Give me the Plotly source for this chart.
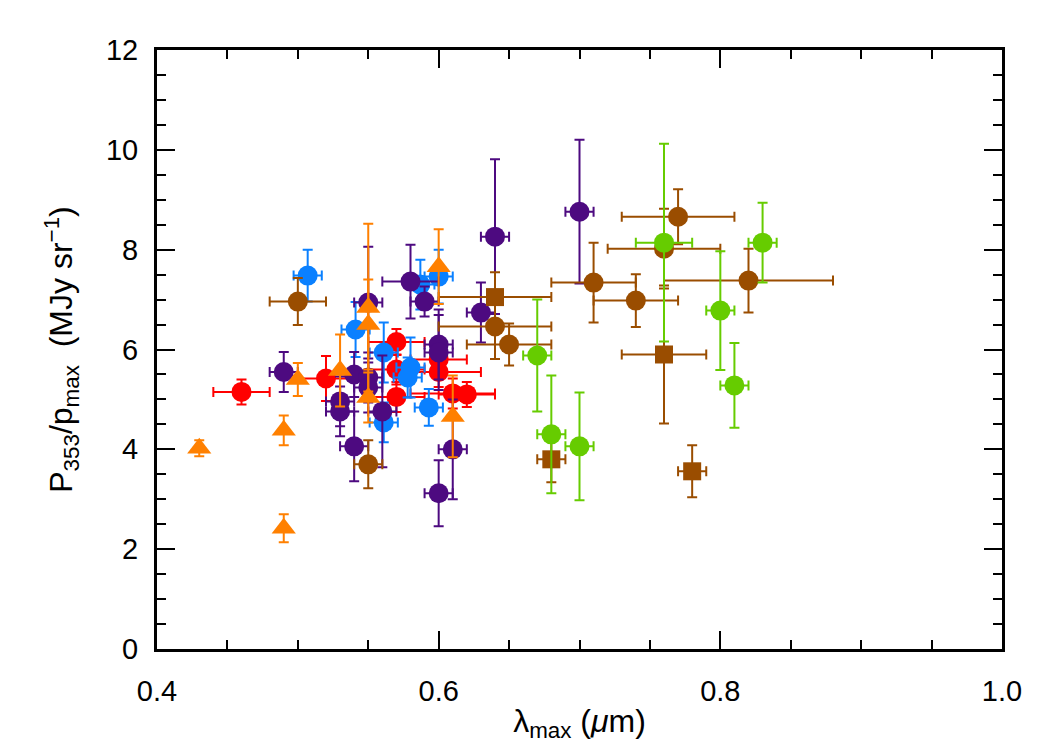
import plotly.graph_objects as go

# ---- data ----
red_x = [0.46, 0.52, 0.57, 0.57, 0.57, 0.60, 0.60, 0.61, 0.62]
red_y = [5.15, 5.42, 6.15, 5.60, 5.05, 5.55, 5.80, 5.12, 5.10]
red_xerr = [0.02, 0.02, 0.02, 0.02, 0.02, 0.03, 0.02, 0.03, 0.02]
red_yerr = [0.25, 0.45, 0.26, 0.30, 0.30, 0.30, 0.30, 0.30, 0.25]

blue_x = [0.507, 0.541, 0.561, 0.580, 0.578, 0.593, 0.600, 0.587, 0.561]
blue_y = [7.48, 6.40, 5.94, 5.64, 5.44, 4.84, 7.46, 7.30, 4.54]
blue_xerr = [0.01, 0.01, 0.01, 0.01, 0.01, 0.01, 0.01, 0.01, 0.01]
blue_yerr = [0.52, 0.55, 0.60, 0.60, 0.40, 0.37, 0.54, 0.50, 0.40]

purple_x = [0.49, 0.53, 0.53, 0.54, 0.54, 0.55, 0.55, 0.55, 0.56, 0.58,
            0.59, 0.60, 0.60, 0.60, 0.61, 0.63, 0.64, 0.70]
purple_y = [5.55, 4.96, 4.76, 5.50, 4.06, 6.94, 5.44, 5.24, 4.76, 7.36,
            6.96, 6.10, 5.94, 3.12, 4.00, 6.74, 8.26, 8.76]
purple_xerr = [0.01, 0.01, 0.01, 0.01, 0.01, 0.01, 0.01, 0.01, 0.01, 0.02,
               0.01, 0.01, 0.01, 0.01, 0.01, 0.01, 0.01, 0.01]
purple_yerr = [0.40, 0.50, 0.50, 0.45, 0.70, 1.12, 0.50, 0.50, 1.12, 0.74,
               0.30, 0.70, 0.75, 0.66, 1.00, 0.60, 1.55, 1.44]

brown_x = [0.50, 0.55, 0.64, 0.65, 0.71, 0.74, 0.76, 0.77, 0.82]
brown_y = [6.96, 3.70, 6.46, 6.10, 7.34, 6.98, 8.02, 8.66, 7.38]
brown_xerr = [0.02, 0.01, 0.04, 0.03, 0.03, 0.03, 0.04, 0.04, 0.06]
brown_yerr = [0.47, 0.48, 0.65, 0.42, 0.80, 0.53, 0.80, 0.55, 0.64]

brownsq_x = [0.64, 0.68, 0.76, 0.78]
brownsq_y = [7.05, 3.80, 5.90, 3.56]
brownsq_xerr = [0.04, 0.01, 0.03, 0.01]
brownsq_yerr = [0.50, 0.46, 1.38, 0.52]

green_x = [0.67, 0.68, 0.70, 0.76, 0.80, 0.81, 0.83]
green_y = [5.88, 4.30, 4.06, 8.14, 6.78, 5.28, 8.14]
green_xerr = [0.01, 0.01, 0.01, 0.02, 0.01, 0.01, 0.01]
green_yerr = [1.12, 1.18, 1.08, 1.98, 1.19, 0.85, 0.80]

orange_x = [0.43, 0.49, 0.49, 0.50, 0.53, 0.55, 0.55, 0.55, 0.60, 0.61]
orange_y = [4.02, 4.38, 2.42, 5.40, 5.58, 6.84, 6.50, 5.04, 7.66, 4.66]
orange_yerr = [0.16, 0.30, 0.28, 0.33, 0.72, 1.68, 0.90, 0.50, 0.75, 0.82]

x_ticks = [0.4, 0.6, 0.8, 1.0]
x_ticklabels = ["0.4", "0.6", "0.8", "1.0"]
y_ticks = [0, 2, 4, 6, 8, 10, 12]

RED = "#ff0000"
BLUE = "#0a80ff"
PURPLE = "#4d0a80"
BROWN = "#9a4d00"
GREEN = "#66cc00"
ORANGE = "#ff8000"

fig = go.Figure()


def add_group(x, y, xerr, yerr, color, symbol, size):
    err_x = dict(type="data", array=xerr, visible=True, color=color,
                 thickness=2, width=5) if xerr is not None else dict(visible=False)
    fig.add_trace(go.Scatter(
        x=x, y=y, mode="markers",
        marker=dict(color=color, symbol=symbol, size=size, line=dict(width=0)),
        error_x=err_x,
        error_y=dict(type="data", array=yerr, visible=True, color=color,
                     thickness=2, width=5),
        showlegend=False,
    ))


add_group(red_x, red_y, red_xerr, red_yerr, RED, "circle", 20)
add_group(blue_x, blue_y, blue_xerr, blue_yerr, BLUE, "circle", 20)
add_group(purple_x, purple_y, purple_xerr, purple_yerr, PURPLE, "circle", 20)
add_group(brown_x, brown_y, brown_xerr, brown_yerr, BROWN, "circle", 20)
add_group(brownsq_x, brownsq_y, brownsq_xerr, brownsq_yerr, BROWN, "square", 18)
add_group(green_x, green_y, green_xerr, green_yerr, GREEN, "circle", 20)
add_group(orange_x, orange_y, None, orange_yerr, ORANGE, "triangle-up", 21)

FONT = "Liberation Sans"

fig.update_layout(
    width=1050, height=750,
    margin=dict(l=157, r=48, t=50, b=101),
    paper_bgcolor="white", plot_bgcolor="white",
    font=dict(family=FONT, size=29, color="black"),
)

fig.update_xaxes(
    range=[0.4, 1.0], showgrid=False, zeroline=False,
    showline=True, linecolor="black", linewidth=3, mirror="allticks",
    ticks="inside", ticklen=18, tickwidth=2, tickcolor="black",
    tickvals=x_ticks, ticktext=x_ticklabels, ticklabelstandoff=14,
    tickfont=dict(family=FONT, size=29),
    minor=dict(dtick=0.05, ticks="inside", ticklen=9, tickwidth=2, tickcolor="black"),
    title=dict(text="λ<sub>max</sub> (<i>μ</i>m)", standoff=4,
               font=dict(family=FONT, size=32)),
)
fig.update_yaxes(
    range=[0, 12], showgrid=False, zeroline=False,
    showline=True, linecolor="black", linewidth=3, mirror="allticks",
    ticks="inside", ticklen=18, tickwidth=2, tickcolor="black",
    tickvals=y_ticks, ticklabelstandoff=10,
    tickfont=dict(family=FONT, size=29),
    minor=dict(dtick=0.5, ticks="inside", ticklen=9, tickwidth=2, tickcolor="black"),
    title=dict(text="P<sub>353</sub>/p<sub>max</sub>  (MJy sr<sup>−1</sup>)", standoff=24,
               font=dict(family=FONT, size=32)),
)

fig.write_html("out.html")
